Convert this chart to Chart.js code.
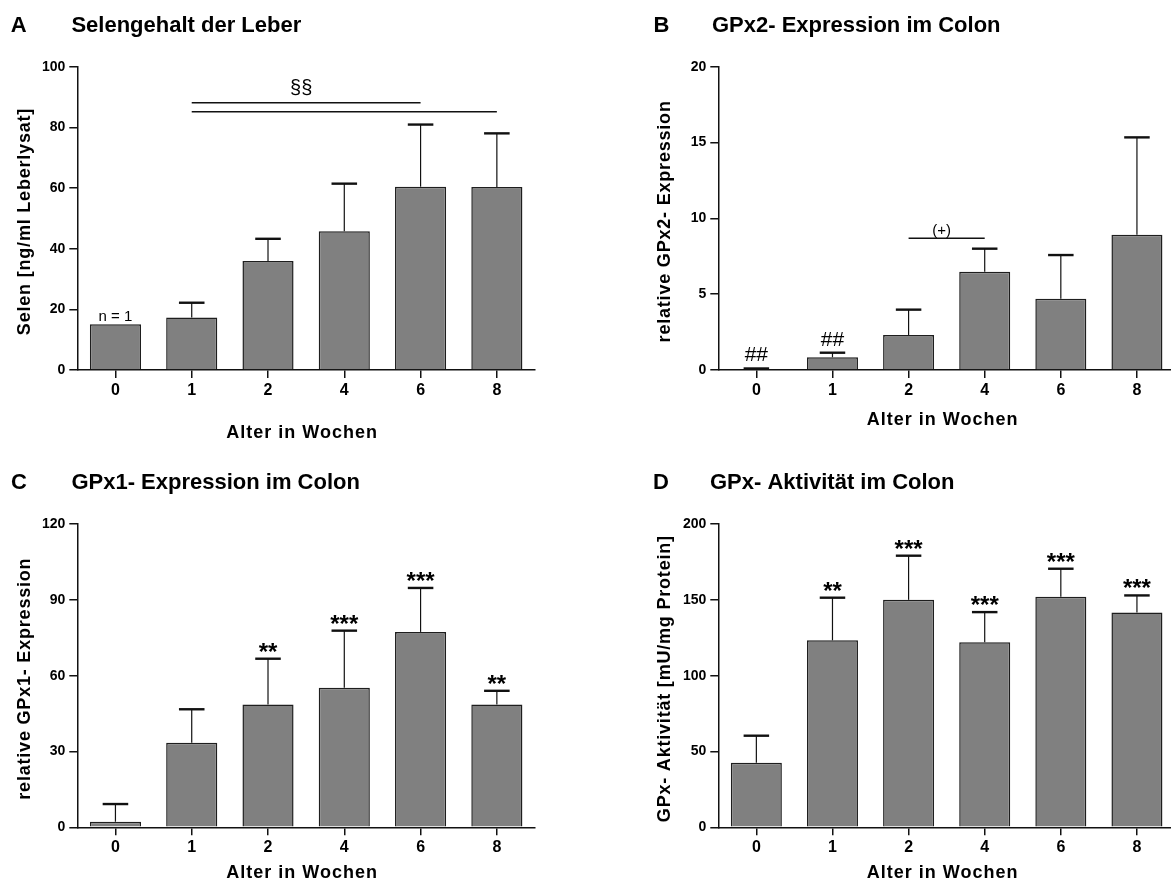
<!DOCTYPE html>
<html>
<head>
<meta charset="utf-8">
<title>Selen und GPx im Colon</title>
<script src="https://cdn.jsdelivr.net/npm/chart.js@4.4.1/dist/chart.umd.min.js"></script>
<style>
    html, body { margin: 0; padding: 0; background: #fff; overflow: hidden; }
    body { width: 1171px; height: 882px; position: relative; }
    canvas { position: absolute; }
</style>
</head>
<body>
<canvas id="chartA" width="560" height="445" style="left:0;top:0"></canvas>
<canvas id="chartB" width="600" height="445" style="left:580px;top:0"></canvas>
<canvas id="chartC" width="560" height="445" style="left:0;top:445px"></canvas>
<canvas id="chartD" width="600" height="445" style="left:580px;top:445px"></canvas>
<script>
// Data
const weeks = ['0', '1', '2', '4', '6', '8'];

const selenMean = [15.1, 17.3, 36.0, 45.8, 60.5, 60.4];
const selenErr = [0, 4.9, 7.3, 15.7, 20.5, 17.7];
const selenMarks = ['n = 1', '', '', '', '', ''];

const gpx2Mean = [0.05, 0.84, 2.31, 6.48, 4.70, 8.92];
const gpx2Err = [0.05, 0.30, 1.67, 1.52, 2.88, 6.42];
const gpx2Marks = ['##', '##', '', '', '', ''];

const gpx1Mean = [2.2, 33.5, 48.6, 55.2, 77.3, 48.6];
const gpx1Err = [7.0, 13.2, 18.1, 22.6, 17.4, 5.4];
const gpx1Marks = ['', '', '**', '***', '***', '**'];

const gpxActMean = [42.6, 123.3, 150.0, 122.0, 152.0, 141.7];
const gpxActErr = [17.8, 28.1, 29.1, 19.9, 18.5, 11.2];
const gpxActMarks = ['', '**', '***', '***', '***', '***'];

// brackets: [from index, to index, value, label]
const selenBrackets = [[1, 4, 88.2, '§§'], [1, 5, 85.2, '']];
const gpx2Brackets = [[2, 3, 8.68, '(+)']];

const FONT = "'Liberation Sans', Arial, sans-serif";
Chart.defaults.font.family = FONT;
Chart.defaults.color = '#000';

// error bars (upward only) + marks above bars + brackets
const errorBarPlugin = {
    id: 'errorBars',
    afterDatasetsDraw(chart, args, opts) {
        const ctx = chart.ctx;
        const y = chart.scales.y;
        const x = chart.scales.x;
        const bars = chart.getDatasetMeta(0).data;
        const means = chart.data.datasets[0].data;
        ctx.save();
        ctx.strokeStyle = '#111';
        ctx.fillStyle = '#000';
        bars.forEach((bar, i) => {
            const top = y.getPixelForValue(means[i] + opts.errors[i]);
            if (opts.errors[i] > 0) {
                const half = bar.width / 4;
                ctx.lineWidth = 1.2;
                ctx.beginPath();
                ctx.moveTo(bar.x, bar.y);
                ctx.lineTo(bar.x, top);
                ctx.stroke();
                ctx.lineWidth = 2.4;
                ctx.beginPath();
                ctx.moveTo(bar.x - half, top);
                ctx.lineTo(bar.x + half, top);
                ctx.stroke();
            }
            const mark = opts.marks[i];
            if (mark) {
                ctx.font = opts.markFont;
                ctx.textAlign = 'center';
                ctx.textBaseline = 'alphabetic';
                const ref = opts.errors[i] > 0 ? top : bar.y;
                ctx.fillText(mark, bar.x, ref - opts.markGap);
            }
        });
        (opts.brackets || []).forEach(b => {
            const x1 = x.getPixelForValue(b[0]);
            const x2 = x.getPixelForValue(b[1]);
            const yy = y.getPixelForValue(b[2]);
            ctx.lineWidth = 1.5;
            ctx.beginPath();
            ctx.moveTo(x1, yy);
            ctx.lineTo(x2, yy);
            ctx.stroke();
            if (b[3]) {
                ctx.font = opts.bracketFont;
                ctx.textAlign = 'center';
                ctx.fillText(b[3], (x1 + x2) / 2 - 5, yy - opts.bracketGap);
            }
        });
        ctx.restore();
    }
};

// panel letter, heading and the two axis titles (letter-spaced)
const headingPlugin = {
    id: 'heading',
    afterDraw(chart, args, opts) {
        const ctx = chart.ctx;
        const area = chart.chartArea;
        ctx.save();
        ctx.fillStyle = '#000';
        ctx.textBaseline = 'alphabetic';
        ctx.font = 'bold 22px ' + FONT;
        ctx.textAlign = 'left';
        ctx.fillText(opts.letter, opts.letterX, opts.baseline);
        ctx.fillText(opts.text, opts.textX, opts.baseline);

        ctx.font = 'bold 18px ' + FONT;
        ctx.letterSpacing = '1px';
        ctx.textAlign = 'center';
        ctx.textBaseline = 'middle';
        ctx.fillText('Alter in Wochen', (area.left + area.right) / 2 - 4, opts.xTitleY);

        ctx.letterSpacing = '0.8px';
        ctx.translate(opts.yTitleX, (area.top + area.bottom) / 2 + 3);
        ctx.rotate(-Math.PI / 2);
        ctx.fillText(opts.yTitle, 0, 0);
        ctx.restore();
    }
};

function makePanel(id, p) {
    const canvas = document.getElementById(id);
    const W = canvas.width, H = canvas.height;
    const axisGrid = { display: true, drawOnChartArea: false, offset: false, tickLength: 8, color: '#111', lineWidth: 1.5 };
    const axisBorder = { display: true, color: '#111', width: 1.5 };

    return new Chart(canvas, {
        type: 'bar',
        data: {
            labels: weeks,
            datasets: [{
                data: p.means,
                backgroundColor: '#808080',
                borderColor: '#1e1e1e',
                borderWidth: 1.5,
                barPercentage: 0.67,
                categoryPercentage: 1
            }]
        },
        options: {
            responsive: false,
            animation: false,
            layout: { padding: { left: 0, right: W - p.right, top: p.top, bottom: 0 } },
            plugins: {
                legend: { display: false },
                tooltip: { enabled: false },
                errorBars: {
                    errors: p.errors, marks: p.marks, markFont: p.markFont, markGap: p.markGap,
                    brackets: p.brackets, bracketFont: p.bracketFont, bracketGap: p.bracketGap
                },
                heading: p.heading
            },
            scales: {
                x: {
                    grid: axisGrid,
                    border: axisBorder,
                    ticks: { color: '#000', font: { size: 16, weight: 'bold' }, padding: 3 },
                    afterFit(scale) { scale.height = H - p.bottom; }
                },
                y: {
                    min: 0,
                    max: p.max,
                    grid: axisGrid,
                    border: axisBorder,
                    ticks: { stepSize: p.step, color: '#000', font: { size: 14, weight: 'bold' }, padding: 4 },
                    afterFit(scale) { scale.width = p.left; }
                }
            }
        },
        plugins: [errorBarPlugin, headingPlugin]
    });
}

makePanel('chartA', {
    means: selenMean, errors: selenErr, marks: selenMarks, markFont: '15px ' + FONT, markGap: 3,
    brackets: selenBrackets, bracketFont: '20px ' + FONT, bracketGap: 9,
    max: 100, step: 20,
    left: 77.3, right: 535, top: 67, bottom: 370,
    heading: { letter: 'A', text: 'Selengehalt der Leber', letterX: 10.7, textX: 71.4, baseline: 32,
        yTitle: 'Selen [ng/ml Leberlysat]', yTitleX: 25, xTitleY: 433 }
});

makePanel('chartB', {
    means: gpx2Mean, errors: gpx2Err, marks: gpx2Marks, markFont: '21px ' + FONT, markGap: 7,
    brackets: gpx2Brackets, bracketFont: '15px ' + FONT, bracketGap: 3,
    max: 20, step: 5,
    left: 138.3, right: 595, top: 66.7, bottom: 370,
    heading: { letter: 'B', text: 'GPx2- Expression im Colon', letterX: 73.5, textX: 132, baseline: 32,
        yTitle: 'relative GPx2- Expression', yTitleX: 85, xTitleY: 420 }
});

makePanel('chartC', {
    means: gpx1Mean, errors: gpx1Err, marks: gpx1Marks, markFont: 'bold 24px ' + FONT, markGap: -1,
    max: 120, step: 30,
    left: 77.3, right: 535, top: 79, bottom: 382.3,
    heading: { letter: 'C', text: 'GPx1- Expression im Colon', letterX: 11, textX: 71.4, baseline: 44,
        yTitle: 'relative GPx1- Expression', yTitleX: 25, xTitleY: 428 }
});

makePanel('chartD', {
    means: gpxActMean, errors: gpxActErr, marks: gpxActMarks, markFont: 'bold 24px ' + FONT, markGap: -1,
    max: 200, step: 50,
    left: 138.3, right: 595, top: 79, bottom: 382.3,
    heading: { letter: 'D', text: 'GPx- Aktivität im Colon', letterX: 73, textX: 130, baseline: 44,
        yTitle: 'GPx- Aktivität [mU/mg Protein]', yTitleX: 85, xTitleY: 428 }
});
</script>
</body>
</html>
